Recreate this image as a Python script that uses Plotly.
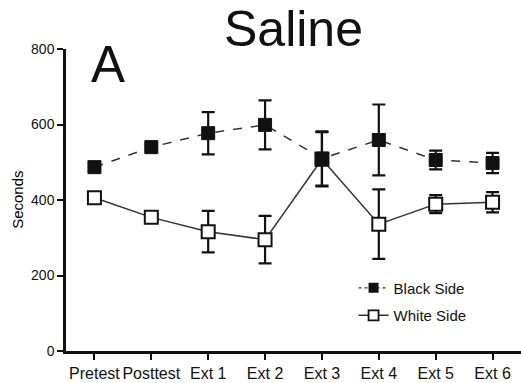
import plotly.graph_objects as go

# Time in each compartment across sessions (mean ± SEM)
sessions = ["Pretest", "Posttest", "Ext 1", "Ext 2", "Ext 3", "Ext 4", "Ext 5", "Ext 6"]
black_mean = [487, 540, 577, 599, 510, 559, 506, 498]
black_sem = [6, 6, 56, 65, 72, 94, 25, 27]
white_mean = [406, 354, 316, 295, 508, 336, 389, 394]
white_sem = [6, 6, 55, 63, 72, 92, 24, 27]

y_ticks = [0, 200, 400, 600, 800]

FONT = "Liberation Sans, Arial, sans-serif"
INK = "#111111"
LINE = "#333333"

fig = go.Figure()

fig.add_trace(go.Scatter(
    x=sessions, y=white_mean, name="White Side", mode="lines+markers",
    line=dict(color=LINE, width=1.5, dash="solid"),
    marker=dict(symbol="square", size=13, color="white",
                line=dict(color=INK, width=2)),
    error_y=dict(type="data", array=white_sem, visible=True,
                 color=INK, thickness=2.2, width=6.5),
    showlegend=False,
))

fig.add_trace(go.Scatter(
    x=sessions, y=black_mean, name="Black Side", mode="lines+markers",
    line=dict(color=LINE, width=1.5, dash="dash"),
    marker=dict(symbol="square", size=13, color=INK,
                line=dict(color=INK, width=1)),
    error_y=dict(type="data", array=black_sem, visible=True,
                 color=INK, thickness=2.2, width=6.5),
    showlegend=False,
))

# Legend keys with smaller symbols
fig.add_trace(go.Scatter(
    x=[None], y=[None], name="Black Side", mode="lines+markers",
    line=dict(color=LINE, width=1.2, dash="dot"),
    marker=dict(symbol="square", size=10, color=INK),
    legendrank=1, legendgroup="b",
))
fig.add_trace(go.Scatter(
    x=[None], y=[None], name="White Side", mode="lines+markers",
    line=dict(color=LINE, width=1.5),
    marker=dict(symbol="square", size=10, color="white",
                line=dict(color=INK, width=1.8)),
    legendrank=2, legendgroup="w",
))

fig.update_layout(
    width=521, height=383,
    margin=dict(l=66, r=0, t=49, b=32),
    paper_bgcolor="white", plot_bgcolor="white",
    font=dict(family=FONT, color=INK),
    showlegend=True,
    legend=dict(x=0.632, y=0.263, xanchor="left", yanchor="top",
                bgcolor="rgba(0,0,0,0)", font=dict(size=15, family=FONT),
                tracegroupgap=5, itemwidth=30),
    xaxis=dict(
        type="category", categoryorder="array", categoryarray=sessions,
        range=[-0.5, 7.5], showgrid=False, zeroline=False,
        showline=True, linecolor=INK, linewidth=2.5,
        ticks="outside", ticklen=6, tickwidth=2, tickcolor=INK,
        tickfont=dict(size=16, family=FONT, color=INK),
    ),
    yaxis=dict(
        range=[0, 800], tickvals=y_ticks, showgrid=False, zeroline=False,
        showline=True, linecolor=INK, linewidth=2.5,
        ticks="outside", ticklen=6, tickwidth=2, tickcolor=INK,
        tickfont=dict(size=14, family=FONT, color=INK),
    ),
    annotations=[
        dict(text="Saline", x=0.501, y=1.065, xref="paper", yref="paper",
             xanchor="center", yanchor="middle", showarrow=False,
             font=dict(size=50, family=FONT, color=INK)),
        dict(text="A", x=0.05, y=0.95, xref="paper", yref="paper",
             xanchor="left", yanchor="middle", showarrow=False,
             font=dict(size=51, family=FONT, color=INK)),
        dict(text="Seconds", x=-0.108, y=0.5, xref="paper", yref="paper",
             xanchor="center", yanchor="middle", textangle=-90,
             showarrow=False, font=dict(size=15, family=FONT, color="#000000")),
    ],
)

fig.write_html("out.html")
